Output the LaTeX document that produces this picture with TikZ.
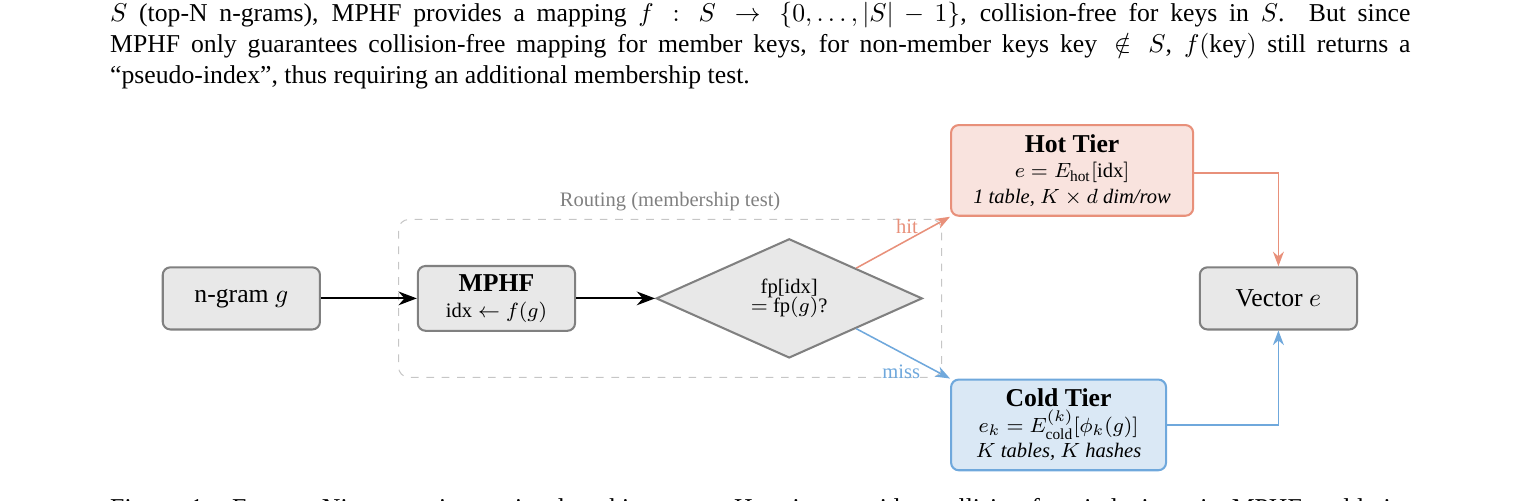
\documentclass[tikz,border=0pt]{standalone}
\usepackage{amsmath,amssymb}
\usepackage{fontspec}
\setmainfont{Liberation Serif}
\usepackage{xcolor}
\usetikzlibrary{arrows.meta,positioning,shapes.geometric,fit}

\definecolor{hotline}{HTML}{E8907A}
\definecolor{hotfill}{HTML}{F9E3DE}
\definecolor{coldline}{HTML}{6FA8DC}
\definecolor{coldfill}{HTML}{DAE8F5}

\begin{document}
\begin{tikzpicture}[
  nbox/.style={draw=gray, thick, rounded corners=3pt, fill=gray!18, minimum width=2.15cm,
               minimum height=0.85cm, align=center},
  tbox/.style={draw, thick, rounded corners=3pt, minimum height=1.24cm, align=center, inner sep=2pt},
  decide/.style={diamond, draw=gray, thick, fill=gray!18, minimum width=3.64cm, minimum height=1.63cm,
                 inner sep=0pt, align=center, font=\footnotesize},
  arrow/.style={-{Stealth[length=2.5mm]}, thick},
  carrow/.style={-{Stealth[length=2mm]}, semithick}
]
\useasboundingbox (0,-2.76) rectangle (20.92,4.08);
\clip (0,-2.76) rectangle (20.92,4.08);

% page text around the figure
\node[anchor=north west, inner sep=0pt, text width=505.89pt, align=justify] (para) at (1.50,4.05)
  {$S$ (top-N n-grams), MPHF provides a mapping $f : S \to \{0, \ldots, |S|-1\}$, collision-free for keys in $S$. But since\linebreak
   MPHF only guarantees collision-free mapping for member keys, for non-member keys $\mathrm{key} \notin S$, $f(\mathrm{key})$ still returns a\linebreak
   ``pseudo-index'', thus requiring an additional membership test.};
\node[anchor=base west, inner sep=0pt] (caption) at (1.50,-2.98)
  {\makebox[505.89pt][s]{Figure 1: Engram-Nine two-tier retrieval architecture. Hot tier provides collision-free indexing via MPHF, cold tier}};

\node[nbox] (ngram) at (3.30,0) {n-gram $g$};
\node[nbox, right=1.31cm of ngram] (mphf) {\textbf{MPHF}\\[-2pt] {\footnotesize $\mathrm{idx} \leftarrow f(g)$}};
\node[decide, right=1.08cm of mphf] (check) {fp[idx]\\[-2pt] $=$ fp$(g)$?};
\node[tbox, draw=hotline, fill=hotfill, minimum width=3.31cm, anchor=west] (hot) at (12.99,1.75)
  {\textbf{Hot Tier}\\[-2pt] {\footnotesize $e = E_{\mathrm{hot}}[\mathrm{idx}]$}\\[-2pt]
   {\footnotesize\itshape 1 table, $K \times d$ dim/row}};
\node[tbox, draw=coldline, fill=coldfill, minimum width=2.94cm, anchor=west] (cold) at (12.99,-1.73)
  {\textbf{Cold Tier}\\[-2pt] {\footnotesize $e_k = E^{(k)}_{\mathrm{cold}}[\phi_k(g)]$}\\[-2pt]
   {\footnotesize\itshape $K$ tables, $K$ hashes}};
\node[nbox] (vec) at (17.48,0) {Vector $e$};

\node[draw=gray!45, dashed, rounded corners=4pt, fit=(mphf)(check), inner sep=0.25cm] (route) {};
\node[above=-0.5pt of route, font=\footnotesize, text=gray] (routelbl) {Routing (membership test)};

\draw[arrow] (ngram) -- (mphf);
\draw[arrow] (mphf) -- (check);
\draw[carrow, hotline] (check.north east) -- node[pos=0.54, above, yshift=-1pt, font=\footnotesize]{hit} (hot.south west);
\draw[carrow, coldline] (check.south east) -- node[pos=0.48, below, yshift=-1pt, font=\footnotesize]{miss} (cold.north west);
\draw[carrow, hotline] ([yshift=-1pt]hot.east) -| (vec.north);
\draw[carrow, coldline] (cold.east) -| (vec.south);
\end{tikzpicture}
\end{document}
